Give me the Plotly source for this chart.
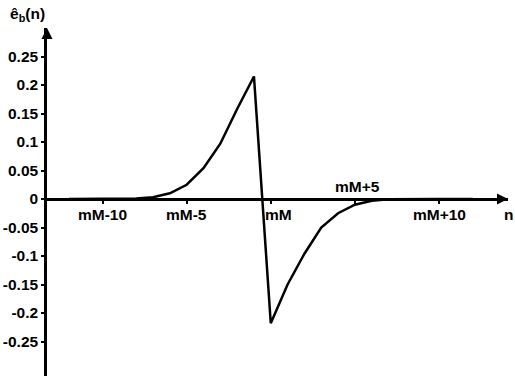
import plotly.graph_objects as go

# Sample index relative to mM and the estimated error sequence
n_offset = list(range(-12, 13))
e_hat_b = [0.0, 0.0, 0.0, 0.0, 0.001, 0.003, 0.010, 0.025, 0.054, 0.097, 0.158, 0.215,
           -0.218, -0.150, -0.096, -0.050, -0.025, -0.010, -0.003, -0.0005,
           0.0, 0.0, 0.0, 0.0, 0.0]

x_tick_vals = [-10, -5, 0, 5, 10]
x_tick_text = ["mM-10", "mM-5", "mM", "mM+5", "mM+10"]
y_tick_vals = [0.25, 0.2, 0.15, 0.1, 0.05, 0, -0.05, -0.1, -0.15, -0.2, -0.25]
y_tick_text = ["0.25", "0.2", "0.15", "0.1", "0.05", "0", "-0.05", "-0.1", "-0.15", "-0.2", "-0.25"]

x_range = [-13.3, 14.1]
y_range = [-0.3105, 0.30]

FAMILY = "Liberation Sans, Arial, sans-serif"
BOLD = dict(family=FAMILY, size=15.5, color="black", weight="bold")
LW = 2.5

fig = go.Figure()
fig.add_trace(go.Scatter(x=n_offset, y=e_hat_b, mode="lines",
                         line=dict(color="black", width=LW), hoverinfo="skip"))

# arrowheads at the ends of both axes
fig.add_trace(go.Scatter(x=[x_range[0]], y=[y_range[1]], mode="markers", cliponaxis=False,
                         marker=dict(symbol="arrow-up", size=11, color="black"),
                         hoverinfo="skip"))
fig.add_trace(go.Scatter(x=[x_range[1]], y=[0], mode="markers", cliponaxis=False,
                         marker=dict(symbol="arrow-right", size=11, color="black"),
                         hoverinfo="skip"))

# horizontal axis sits on y = 0
x_axis_pos = (0 - y_range[0]) / (y_range[1] - y_range[0])

fig.update_layout(
    width=515, height=376,
    margin=dict(l=47, r=7, t=28, b=0),
    paper_bgcolor="white", plot_bgcolor="white",
    showlegend=False,
    font=dict(family=FAMILY, size=15.5, color="black"),
    xaxis=dict(range=x_range, anchor="free", position=x_axis_pos,
               showline=True, linecolor="black", linewidth=LW,
               tickvals=x_tick_vals, showticklabels=False,
               ticks="outside", ticklen=3, tickwidth=2, tickcolor="black",
               showgrid=False, zeroline=False),
    yaxis=dict(range=y_range, showline=True, linecolor="black", linewidth=LW,
               tickvals=y_tick_vals, ticktext=y_tick_text,
               ticks="outside", ticklen=3, tickwidth=2, tickcolor="black",
               tickfont=BOLD,
               showgrid=False, zeroline=False),
)

annotations = []
for v, t in zip(x_tick_vals, x_tick_text):
    above = (t == "mM+5")
    shift_x = 8 if t == "mM" else (3 if above else 0)
    annotations.append(dict(x=v, y=0, xref="x", yref="y", text=t, showarrow=False,
                            xanchor="center", yanchor="middle",
                            xshift=shift_x, yshift=13 if above else -15, font=BOLD))

# axis names
annotations.append(dict(x=1, y=0, xref="paper", yref="y", text="n", showarrow=False,
                        xanchor="center", yanchor="middle", xshift=0, yshift=-15, font=BOLD))
annotations.append(dict(x=0, y=1, xref="paper", yref="paper", text="ê<sub>b</sub>(n)",
                        showarrow=False, xanchor="right", yanchor="bottom", xshift=0, yshift=2,
                        font=BOLD))

fig.update_layout(annotations=annotations)
fig.write_html("out.html")
